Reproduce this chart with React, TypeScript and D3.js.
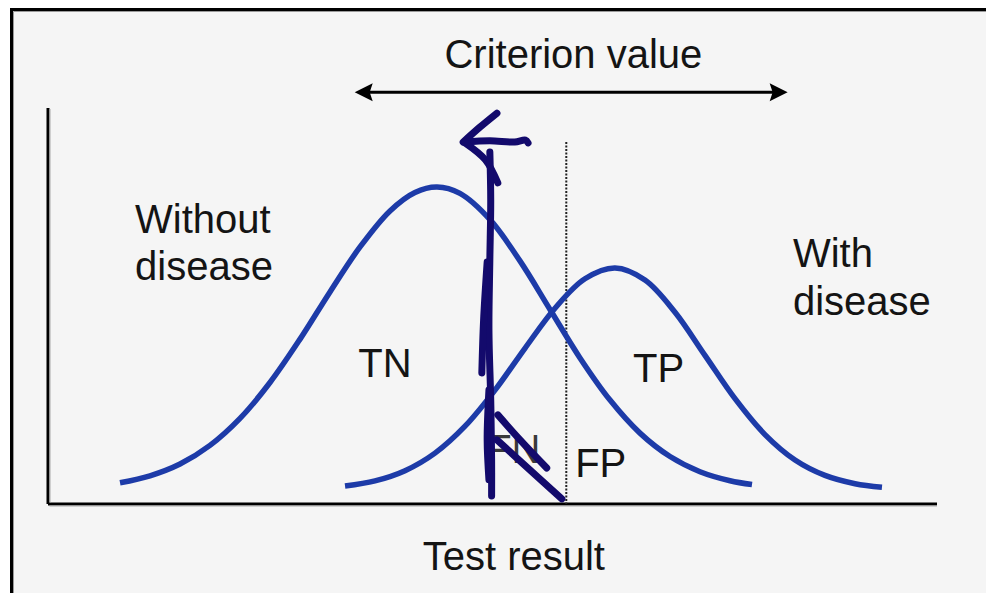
import React from "react";
import * as d3 from "d3";

// Test-result axis units (0..100) and density units (0..100)
const withoutDiseaseX = [8.1, 11.47, 14.85, 18.22, 21.6, 24.97, 28.35, 31.72, 35.1, 38.47, 41.28, 43.76, 46.34, 49.72, 53.09, 56.47, 59.84, 63.22, 66.59, 69.97, 73.34, 76.72, 79.19];
const withoutDiseaseY = [5.35, 7.12, 10.1, 14.8, 21.62, 30.68, 41.64, 53.56, 64.92, 74.02, 78.69, 80.05, 78.43, 71.79, 61.39, 49.12, 36.89, 26.24, 17.9, 11.99, 8.16, 5.88, 4.9];
const withDiseaseX = [33.41, 36.78, 40.16, 43.53, 46.91, 50.28, 53.65, 57.03, 60.4, 63.78, 67.15, 70.53, 73.9, 77.28, 80.65, 84.03, 87.4, 90.78, 93.81];
const withDiseaseY = [4.52, 5.83, 8.41, 12.85, 19.65, 28.76, 39.32, 49.44, 56.87, 59.6, 56.57, 48.43, 37.53, 26.59, 17.53, 11.11, 7.22, 5.13, 4.22];
const criterionValue = 58.3;
const criterionTop = 91.4;
const criterionRange = [34.5, 83.2];
const criterionArrowY = 104.0;

// hand-drawn annotation strokes, in the same units
const scribbleStrokes: [number, number][][] = [
  [[50.5, 98.7], [48.6, 95.2], [46.7, 91.4]],
  [[46.9, 91.4], [49.7, 91.7], [52.5, 91.4], [53.7, 91.9], [54.0, 91.2]],
  [[46.9, 91.2], [49.2, 86.9], [50.6, 81.1]],
  [[49.7, 88.9], [49.8, 76.8], [49.7, 61.6], [49.6, 43.9], [49.8, 26.3], [49.9, 11.1], [49.9, 2.0]],
  [[49.4, 61.1], [49.0, 46.5], [48.8, 33.1]],
  [[49.6, 28.8], [49.4, 16.2], [49.6, 6.1]],
  [[50.6, 22.5], [53.1, 16.2], [56.1, 9.1]],
  [[50.5, 16.2], [54.2, 8.6], [57.8, 1.3]],
];

const W = 986;
const H = 593;

export default function App() {
  const x = d3.scaleLinear().domain([0, 100]).range([48, 937]);
  const y = d3.scaleLinear().domain([0, 100]).range([504, 108]);

  const line = d3
    .line<[number, number]>()
    .x((d) => x(d[0]))
    .y((d) => y(d[1]))
    .curve(d3.curveCatmullRom.alpha(0.5));

  const scribbleLine = d3
    .line<[number, number]>()
    .x((d) => x(d[0]))
    .y((d) => y(d[1]))
    .curve(d3.curveCatmullRom.alpha(0.5));

  const c1 = withoutDiseaseX.map((v, i) => [v, withoutDiseaseY[i]] as [number, number]);
  const c2 = withDiseaseX.map((v, i) => [v, withDiseaseY[i]] as [number, number]);

  const font = "Arial, 'Liberation Sans', sans-serif";
  const textColor = "#141414";
  const curveColor = "#1d3ba8";
  const ink = "#130a6c";

  const ax0 = x(criterionRange[0]);
  const ax1 = x(criterionRange[1]);
  const ay = y(criterionArrowY);

  return (
    <svg
      width={W}
      height={H}
      style={{ position: "fixed", left: 0, top: 0, display: "block" }}
      fontFamily={font}
    >
      <rect x={0} y={0} width={W} height={H} fill="#ffffff" />
      <rect x={11.5} y={9.5} width={1100} height={1100} fill="#f5f5f5" stroke="#000" strokeWidth={3} />
      <line x1={13.5} y1={11.5} x2={W} y2={11.5} stroke="#9a9a9a" strokeWidth={1} />
      <line x1={13.5} y1={11.5} x2={13.5} y2={H} stroke="#9a9a9a" strokeWidth={1} />

      {/* axes */}
      <line x1={x(0)} y1={y(100)} x2={x(0)} y2={y(0)} stroke="#000" strokeWidth={3} />
      <line x1={x(0)} y1={y(0)} x2={x(100)} y2={y(0)} stroke="#000" strokeWidth={3} />
      <line x1={x(0) + 2} y1={y(100) + 1} x2={x(0) + 2} y2={y(0) - 1.5} stroke="#aaa" strokeWidth={1} />
      <line x1={x(0) + 1.5} y1={y(0) + 2} x2={x(100)} y2={y(0) + 2} stroke="#aaa" strokeWidth={1} />

      {/* criterion arrow */}
      <line x1={ax0 + 10} y1={ay} x2={ax1 - 10} y2={ay} stroke="#000" strokeWidth={3} />
      <path d={`M${ax0},${ay} L${ax0 + 18},${ay - 9} L${ax0 + 15},${ay} L${ax0 + 18},${ay + 9} Z`} fill="#000" />
      <path d={`M${ax1},${ay} L${ax1 - 18},${ay - 9} L${ax1 - 15},${ay} L${ax1 - 18},${ay + 9} Z`} fill="#000" />
      <text x={x(59.1)} y={y(110.1)} fontSize={40} textAnchor="middle" fill={textColor}>
        Criterion value
      </text>

      {/* criterion dotted line */}
      <line
        x1={x(criterionValue)}
        y1={y(criterionTop)}
        x2={x(criterionValue)}
        y2={y(0)}
        stroke="#222"
        strokeWidth={2}
        strokeDasharray="2,1.5"
      />

      {/* curves */}
      <path d={line(c1) ?? ""} fill="none" stroke={curveColor} strokeWidth={5.5} strokeLinecap="butt" />
      <path d={line(c2) ?? ""} fill="none" stroke={curveColor} strokeWidth={5.5} strokeLinecap="butt" />

      {/* labels */}
      <text x={x(9.8)} y={y(68.4)} fontSize={40} fill={textColor}>Without</text>
      <text x={x(9.8)} y={y(56.6)} fontSize={40} fill={textColor}>disease</text>
      <text x={x(83.8)} y={y(59.8)} fontSize={40} fill={textColor}>With</text>
      <text x={x(83.8)} y={y(47.7)} fontSize={40} fill={textColor}>disease</text>
      <text x={x(34.9)} y={y(32.1)} fontSize={40} fill={textColor}>TN</text>
      <text x={x(65.8)} y={y(30.8)} fontSize={40} fill={textColor}>TP</text>
      <text x={x(49.4)} y={y(10.4)} fontSize={40} fill="#3a3a3a">FN</text>
      <text x={x(59.3)} y={y(6.8)} fontSize={40} fill={textColor}>FP</text>
      <text x={x(52.4)} y={y(-16.7)} fontSize={40} textAnchor="middle" fill={textColor}>Test result</text>

      {/* hand-drawn annotation */}
      {scribbleStrokes.map((s, i) => (
        <path
          key={i}
          d={scribbleLine(s) ?? ""}
          fill="none"
          stroke={ink}
          strokeWidth={7}
          strokeLinecap="round"
          strokeLinejoin="round"
        />
      ))}
    </svg>
  );
}
